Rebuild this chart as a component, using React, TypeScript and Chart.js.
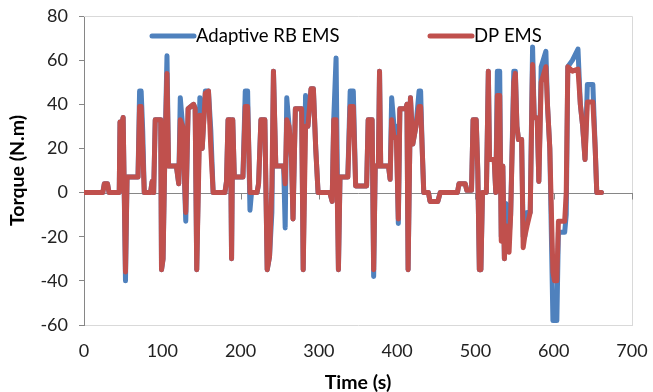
import { useEffect, useRef } from "react";
import { Chart, registerables } from "chart.js";

Chart.register(...registerables);

// Time axis (s)
const timeS = [
  0, 24, 26, 30, 32, 45, 46, 49, 50, 51, 53, 55, 69, 71, 73, 75, 77, 85, 87, 89,
  91, 98, 99, 101, 103, 106, 108, 118, 121, 123, 126, 130, 133, 140, 142, 144, 148, 151, 155, 159,
  162, 165, 180, 182, 184, 187, 188.5, 190, 192, 203, 206, 209, 212, 214, 221, 223, 226, 231, 234, 237,
  240, 242, 245, 255, 257, 259, 262, 265, 267, 270, 278, 280, 283, 286, 290, 293, 296, 299, 314, 317,
  319, 322, 325, 327, 337, 340, 344, 347, 361, 363, 368, 370, 372, 376, 377.5, 379, 389, 391, 393, 396,
  399, 401.5, 403.5, 411, 412.5, 414, 417, 420, 424, 428, 430, 432, 434, 440, 442, 452, 455, 477, 479, 487,
  489, 495, 497, 501, 503, 505, 507, 509, 514, 516.5, 518, 524, 526, 528, 531, 533, 535, 537, 539, 541,
  543, 545, 549, 551, 553, 555, 559, 561, 563, 566, 570, 573, 575, 579, 581, 584, 590, 592, 595, 599,
  601, 604, 606, 614, 616, 618, 624, 631, 634, 637, 640, 643, 650, 653, 655, 661,
];

// Adaptive RB EMS torque (N.m)
const adaptiveRB = [
  0, 0, 4, 4, 0, 0, 32, 32, 34, 34, -40, 7, 7, 46, 46, 28, 0, 0, 5, 0,
  33, 33, -35, -30, 12, 62, 12, 12, 4, 43, 30, -13, 38, 40, 38, -35, 43, 20, 46, 46,
  28, 0, 0, 5, 33, 33, -30, 33, 7, 7, 46, 46, -8, 0, 0, 4, 33, 33, -35, -29,
  -9, 55, 12, 12, -16, 43, 30, 16, -12, 38, 38, -35, 44, 30, 47, 47, 20, 0, 0, -4,
  33, 61, -35, 7, 7, 46, 46, 3, 3, 33, 33, -38, 12, 12, 55, 12, 12, 6, 43, 30,
  30, -14, 38, 38, 40, -35, 43, 22, 30, 46, 46, 20, 0, 0, -4, -4, 0, 0, 4, 4,
  1, 1, 33, 33, 10, -35, -35, 0, 0, 55, 15, 15, 0, 55, 55, -20, 12, -30, -5, -20,
  -20, -10, 55, 55, 30, 24, 24, -20, -20, -9, -9, 66, 35, 33, 5, 57, 64, 40, 20, -58,
  -58, -58, -18, -18, -10, 57, 60, 65, 40, 30, 15, 49, 49, 20, 0, 0,
];

// DP EMS torque (N.m)
const dpEMS = [
  0, 0, 4, 4, 0, 0, 32, 32, 34, 34, -36, 7, 7, 39, 39, 20, 0, 0, 5, 0,
  33, 33, -35, -30, 12, 54, 12, 12, 4, 33, 30, -9, 38, 40, 38, -35, 35, 20, 45, 46,
  20, 0, 0, 5, 33, 33, -30, 33, 7, 7, 39, 39, 0, 0, 0, 4, 33, 33, -35, -29,
  3, 55, 12, 12, 4, 33, 30, 16, -12, 38, 38, -35, 30, 30, 47, 47, 20, 0, 0, -4,
  33, 33, -35, 7, 7, 39, 39, 3, 3, 33, 33, -35, 12, 12, 55, 12, 12, 6, 33, 25,
  25, -12, 38, 38, 40, -35, 43, 22, 30, 39, 39, 20, 0, 0, -4, -4, 0, 0, 4, 4,
  1, 1, 33, 33, 10, -35, -35, 0, 0, 55, 15, 15, 0, 44, 44, -22, 12, -30, -15, -22,
  -27, -10, 50, 54, 30, 24, 24, -25, -20, -15, -9, 58, 35, 33, 5, 50, 57, 40, 20, -36,
  -40, -40, -13, -13, 0, 57, 55, 56, 40, 30, 15, 41, 41, 20, 0, 0,
];

const seriesNames = ["Adaptive RB EMS", "DP EMS"];
const xTickValues = [0, 100, 200, 300, 400, 500, 600, 700];
const yTickValues = [-60, -40, -20, 0, 20, 40, 60, 80];

const BLUE = "#4F81BD";
const RED = "#C0504D";
const FONT = "Lato";

export default function App() {
  const ref = useRef<HTMLCanvasElement>(null);

  useEffect(() => {
    document.body.style.margin = "0";
    const canvas = ref.current;
    if (!canvas) return;

    const framePlugin = {
      id: "framePlugin",
      beforeDatasetsDraw(chart: any) {
        const { ctx, chartArea, scales } = chart;
        const { left, right, top, bottom } = chartArea;
        ctx.save();
        // light plot frame (top and right)
        ctx.strokeStyle = "#d9d9d9";
        ctx.lineWidth = 1;
        ctx.beginPath();
        ctx.moveTo(left, top + 0.5);
        ctx.lineTo(right + 0.5, top + 0.5);
        ctx.lineTo(right + 0.5, bottom);
        ctx.stroke();
        // zero line with tick marks
        const y0 = Math.round(scales.y.getPixelForValue(0)) + 0.5;
        ctx.strokeStyle = "#868686";
        ctx.beginPath();
        ctx.moveTo(left, y0);
        ctx.lineTo(right + 1, y0);
        for (const v of xTickValues) {
          const px = Math.round(scales.x.getPixelForValue(v)) + 0.5;
          ctx.moveTo(px, y0);
          ctx.lineTo(px, y0 + 6);
        }
        ctx.stroke();
        ctx.restore();
      },
      afterDatasetsDraw(chart: any) {
        const { ctx, chartArea } = chart;
        const y = chartArea.top + 20;
        const starts = [chartArea.left + 68, chartArea.left + 346];
        ctx.save();
        ctx.font = `18.5px ${FONT}`;
        ctx.textBaseline = "middle";
        ctx.textAlign = "left";
        chart.data.datasets.forEach((ds: any, i: number) => {
          const x = starts[i];
          ctx.strokeStyle = ds.borderColor;
          ctx.lineWidth = 5;
          ctx.lineCap = "round";
          ctx.beginPath();
          ctx.moveTo(x, y);
          ctx.lineTo(x + 42, y);
          ctx.stroke();
          ctx.fillStyle = "#000";
          ctx.fillText(ds.label, x + 44, y);
        });
        ctx.restore();
      },
    };

    const chart = new Chart(canvas, {
      type: "line",
      data: {
        datasets: [
          {
            label: seriesNames[0],
            data: timeS.map((t, i) => ({ x: t, y: adaptiveRB[i] })),
            borderColor: BLUE,
            backgroundColor: BLUE,
            borderWidth: 5,
            pointRadius: 0,
            tension: 0,
            borderJoinStyle: "round",
            borderCapStyle: "round",
            order: 2,
          },
          {
            label: seriesNames[1],
            data: timeS.map((t, i) => ({ x: t, y: dpEMS[i] })),
            borderColor: RED,
            backgroundColor: RED,
            borderWidth: 5,
            pointRadius: 0,
            tension: 0,
            borderJoinStyle: "round",
            borderCapStyle: "round",
            order: 1,
          },
        ],
      },
      options: {
        animation: false,
        responsive: false,
        maintainAspectRatio: false,
        layout: { padding: { top: 16, right: 21, left: 0, bottom: 0 } },
        plugins: {
          legend: { display: false },
          tooltip: { enabled: false },
        },
        scales: {
          x: {
            type: "linear",
            min: 0,
            max: 700,
            afterBuildTicks: (s: any) => {
              s.ticks = xTickValues.map((v) => ({ value: v }));
            },
            grid: { display: false, drawTicks: false },
            border: { display: true, color: "#d9d9d9", width: 1 },
            ticks: {
              padding: 15,
              maxRotation: 0,
              autoSkip: false,
              color: "#222",
              font: { family: FONT, size: 18 },
            },
            title: {
              display: true,
              text: "Time (s)",
              color: "#000",
              font: { family: FONT, size: 19.5, weight: "bold", lineHeight: 1 },
              padding: { top: 0, bottom: 0 },
            },
            afterFit: (s: any) => {
              s.height = 67;
              s.paddingLeft = 0;
              s.paddingRight = 0;
            },
          },
          y: {
            type: "linear",
            min: -60,
            max: 80,
            afterBuildTicks: (s: any) => {
              s.ticks = yTickValues.map((v) => ({ value: v }));
            },
            grid: {
              drawOnChartArea: false,
              drawTicks: true,
              tickLength: 5,
              color: "#868686",
            },
            border: { display: true, color: "#868686", width: 1 },
            ticks: {
              padding: 11,
              autoSkip: false,
              color: "#222",
              font: { family: FONT, size: 18 },
            },
            title: {
              display: true,
              text: "Torque (N.m)",
              color: "#000",
              font: { family: FONT, size: 19.5, weight: "bold", lineHeight: 1 },
              padding: { top: 8, bottom: 0 },
            },
            afterFit: (s: any) => {
              s.width = 84;
              s.paddingTop = 0;
              s.paddingBottom = 0;
            },
          },
        },
      },
      plugins: [framePlugin],
    } as any);

    return () => chart.destroy();
  }, []);

  return (
    <div style={{ width: 653, height: 392 }}>
      <canvas ref={ref} width={653} height={392} style={{ display: "block" }} />
    </div>
  );
}
